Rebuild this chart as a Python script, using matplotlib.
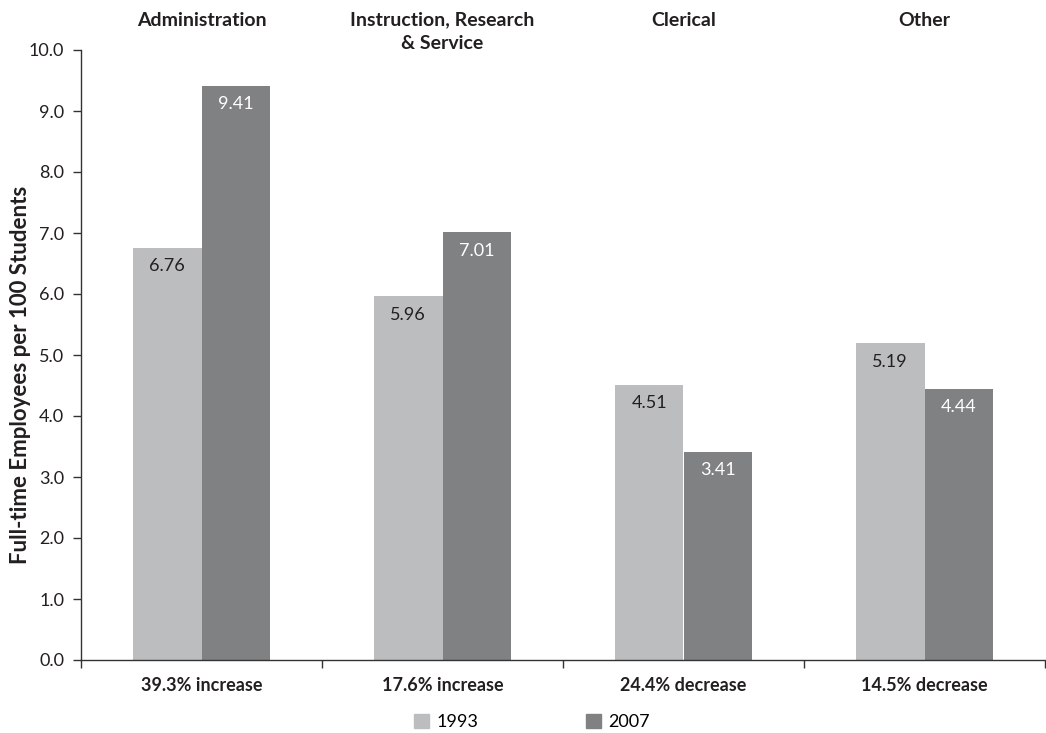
import numpy as np
import matplotlib
matplotlib.use("Agg")
import matplotlib.pyplot as plt
from matplotlib.patches import Patch

# Data
categories = ["Administration", "Instruction, Research\n& Service", "Clerical", "Other"]
changes = ["39.3% increase", "17.6% increase", "24.4% decrease", "14.5% decrease"]
vals_1993 = [6.76, 5.96, 4.51, 5.19]
vals_2007 = [9.41, 7.01, 3.41, 4.44]
years = ["1993", "2007"]

LIGHT = "#bcbdbf"
DARK = "#808183"
TEXT = "#231f20"

plt.rcParams["font.family"] = ["Lato", "DejaVu Sans"]

fig = plt.figure(figsize=(10.46, 7.33), dpi=100)
ax = fig.add_axes([81 / 1046, 73 / 733, 964 / 1046, 610 / 733])

x = np.arange(len(categories))
w = 0.285
b1 = ax.bar(x - w / 2, vals_1993, w, color=LIGHT)
b2 = ax.bar(x + w / 2, vals_2007, w, color=DARK)

for rect, v in zip(b1, vals_1993):
    ax.text(rect.get_x() + rect.get_width() / 2, v - 0.3, f"{v:.2f}",
            ha="center", va="center", fontsize=13, color=TEXT)
for rect, v in zip(b2, vals_2007):
    ax.text(rect.get_x() + rect.get_width() / 2, v - 0.3, f"{v:.2f}",
            ha="center", va="center", fontsize=13, color="white")

ax.set_xlim(-0.5, len(categories) - 0.5)
ax.set_ylim(0, 10)
ax.set_yticks(np.arange(0, 10.1, 1))
ax.set_yticklabels([f"{t:.1f}" for t in np.arange(0, 10.1, 1)], fontsize=13, color=TEXT)
ax.set_xticks(np.arange(-0.5, len(categories), 1))
ax.set_xticklabels([])
ax.tick_params(axis="both", direction="out", length=6, width=1, color="#333333")
ax.tick_params(axis="y", pad=6)

for s in ["top", "right"]:
    ax.spines[s].set_visible(False)
for s in ["left", "bottom"]:
    ax.spines[s].set_color("#333333")
    ax.spines[s].set_linewidth(1)

fig.text(21 / 1046, 1 - 375 / 733, "Full-time Employees per 100 Students",
         rotation=90, ha="center", va="center", fontsize=16,
         fontweight="bold", color=TEXT)

for i, (cat, ch) in enumerate(zip(categories, changes)):
    ax.text(i, 10.63, cat, ha="center", va="top", fontsize=14,
            fontweight="bold", color=TEXT, linespacing=1.45)
    ax.text(i, -0.42, ch, ha="center", va="center", fontsize=13,
            fontweight="bold", color=TEXT)

handles = [Patch(color=LIGHT), Patch(color=DARK)]
fig.legend(handles, years, loc="center", bbox_to_anchor=(532 / 1046, 1 - 722 / 733),
           ncol=2, frameon=False, fontsize=13, handlelength=0.8, handleheight=0.8,
           handletextpad=0.4, columnspacing=6.0)

fig.savefig("out.png", dpi=100, facecolor="white")
